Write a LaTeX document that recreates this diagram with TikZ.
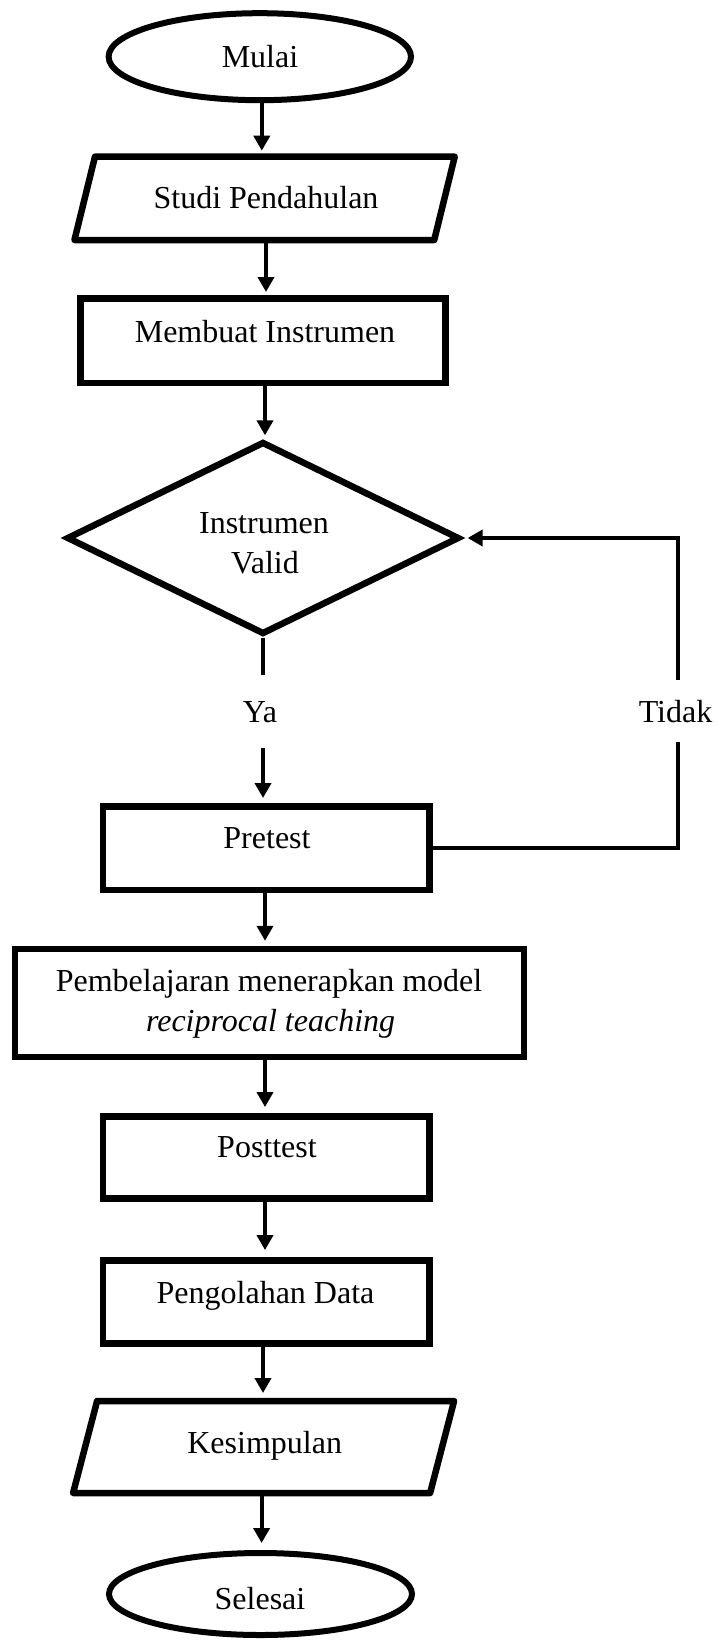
\documentclass[tikz,border=0pt]{standalone}
\usepackage{fontspec}
\setmainfont{Liberation Serif}
\usetikzlibrary{shapes.geometric,arrows.meta}
\tikzset{
  outl/.style={draw=black, line width=6.5pt, inner sep=0pt, outer sep=3.25pt},
  boxr/.style={outl, rectangle},
  oval/.style={outl, ellipse, line width=6pt, outer sep=3pt},
  dia/.style={outl, diamond},
  para/.style={rectangle, draw=none, inner sep=0pt, outer sep=0pt},
  paraline/.style={draw=black, line width=6.5pt, line join=round},
  conn/.style={draw=black, line width=3.8pt},
  arr/.style={conn, -{Triangle[length=15pt,width=16pt]}},
  txt/.style={anchor=base, inner sep=0pt, font=\fontsize{32}{39}\selectfont}
}
\begin{document}
\begin{tikzpicture}[x=1pt,y=-1pt]
\useasboundingbox (0,0) rectangle (717,1640);
% shapes
\node[oval, minimum width=302.4pt, minimum height=87pt] (mulai) at (259.8,56.7) {};
\node[para, minimum width=359.75pt, minimum height=83.3pt] (studi) at (264.6,198.35) {};
\draw[paraline] ([xshift=10.25pt]studi.north west) -- ([xshift=10.25pt]studi.north east)
  -- ([xshift=-10.25pt]studi.south east) -- ([xshift=-10.25pt]studi.south west) -- cycle;
\node[boxr, minimum width=364.7pt, minimum height=84.5pt] (membuat) at (263,340.5) {};
\node[dia, minimum width=392.8pt, minimum height=192.8pt] (valid) at (263,538) {};
\node[boxr, minimum width=326.5pt, minimum height=83.5pt] (pretest) at (266,848) {};
\node[boxr, minimum width=508.8pt, minimum height=107.7pt] (pemb) at (269.4,1002.9) {};
\node[boxr, minimum width=326.5pt, minimum height=82.4pt] (post) at (266,1157.5) {};
\node[boxr, minimum width=326.5pt, minimum height=83.4pt] (olah) at (266,1302) {};
\node[para, minimum width=357pt, minimum height=92pt] (kesim) at (263.6,1447) {};
\draw[paraline] ([xshift=12pt]kesim.north west) -- ([xshift=12pt]kesim.north east)
  -- ([xshift=-12pt]kesim.south east) -- ([xshift=-12pt]kesim.south west) -- cycle;
\node[oval, minimum width=303pt, minimum height=82pt] (selesai) at (260.5,1594) {};
% texts
\node[txt] (tmulai) at (260,68) {Mulai};
\node[txt] (tstudi) at (266,208) {Studi Pendahulan};
\node[txt] (tmembuat) at (265,342) {Membuat Instrumen};
\node[txt] (tvalid1) at (264,533) {Instrumen};
\node[txt] (tvalid2) at (265,573) {Valid};
\node[txt] (tya) at (260,722) {Ya};
\node[txt] (ttidak) at (675.5,722) {Tidak};
\node[txt] (tpretest) at (267,848) {Pretest};
\node[txt] (tpemb1) at (269,991) {Pembelajaran menerapkan model};
\node[txt] (tpemb2) at (270.6,1031) {\itshape reciprocal teaching};
\node[txt] (tpost) at (267,1157) {Posttest};
\node[txt] (tolah) at (265.5,1303) {Pengolahan Data};
\node[txt] (tkesim) at (264.7,1453) {Kesimpulan};
\node[txt] (tselesai) at (260,1609) {Selesai};
% helper coordinates for the split connectors
\coordinate (yaA) at (263,675);
\coordinate (yaB) at (263,748);
\coordinate (tdA) at (678,680);
\coordinate (tdB) at (678,742);
% connectors
\draw[arr, shorten >=6pt] ([xshift=2pt]mulai.south) -- ([xshift=2pt]mulai.south |- studi.north);
\draw[arr, shorten >=3pt] ([xshift=1.4pt]studi.south) -- ([xshift=1.4pt]studi.south |- membuat.north);
\draw[arr, shorten >=3pt] ([xshift=2pt]membuat.south) -- ([xshift=2pt]membuat.south |- valid.north);
\draw[conn] (valid.south) -- (yaA);
\draw[arr, shorten >=5pt] (yaB) -- (yaB |- pretest.north);
\draw[arr, shorten >=5pt] ([xshift=-1pt]pretest.south) -- ([xshift=-1pt]pretest.south |- pemb.north);
\draw[arr, shorten >=6pt] ([xshift=-4.4pt]pemb.south) -- ([xshift=-4.4pt]pemb.south |- post.north);
\draw[arr, shorten >=7pt] ([xshift=-1pt]post.south) -- ([xshift=-1pt]post.south |- olah.north);
\draw[arr, shorten >=8pt] ([xshift=-3pt]olah.south) -- ([xshift=-3pt]olah.south |- kesim.north);
\draw[arr, shorten >=7pt] ([xshift=-2pt]kesim.south) -- ([xshift=-2pt]kesim.south |- selesai.north);
\draw[conn] (pretest.east) -| (tdB);
\draw[arr, shorten >=5pt] (tdA) |- (valid.east);
\end{tikzpicture}
\end{document}
